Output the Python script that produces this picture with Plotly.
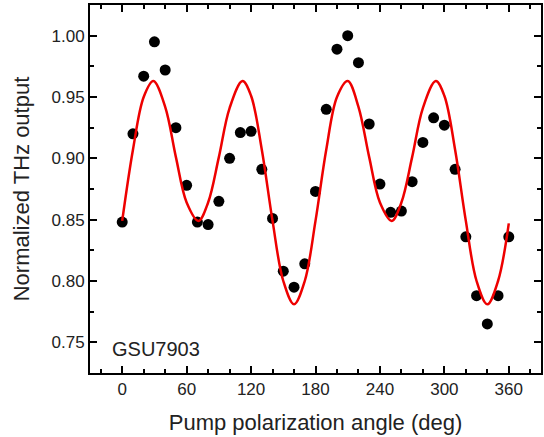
import plotly.graph_objects as go

# Measured data points
angle = [0, 10, 20, 30, 40, 50, 60, 70, 80, 90, 100, 110, 120, 130, 140, 150, 160, 170,
         180, 190, 200, 210, 220, 230, 240, 250, 260, 270, 280, 290, 300, 310, 320, 330,
         340, 350, 360]
thz = [0.848, 0.920, 0.967, 0.995, 0.972, 0.925, 0.878, 0.848, 0.846, 0.865, 0.900, 0.921,
       0.922, 0.891, 0.851, 0.808, 0.795, 0.814, 0.873, 0.940, 0.989, 1.000, 0.978, 0.928,
       0.879, 0.856, 0.857, 0.881, 0.913, 0.933, 0.927, 0.891, 0.836, 0.788, 0.765, 0.788,
       0.836]

# Fit curve
fit_angle = [0, 10, 20, 29, 40, 50, 60, 71, 80, 90, 100, 112, 120, 130, 140, 150, 160,
             170, 180, 190, 200, 210, 220, 230, 240, 251, 260, 270, 280, 292, 300, 310,
             320, 330, 340, 350, 360]
fit_thz = [0.849, 0.907, 0.950, 0.963, 0.942, 0.901, 0.864, 0.849, 0.864, 0.901, 0.941,
           0.963, 0.951, 0.907, 0.849, 0.800, 0.781, 0.800, 0.849, 0.907, 0.950, 0.963,
           0.942, 0.901, 0.864, 0.849, 0.864, 0.901, 0.941, 0.963, 0.951, 0.907, 0.849,
           0.800, 0.781, 0.800, 0.847]

x_ticks = [0, 60, 120, 180, 240, 300, 360]
y_ticks = [0.75, 0.80, 0.85, 0.90, 0.95, 1.00]
y_tick_labels = ["0.75", "0.80", "0.85", "0.90", "0.95", "1.00"]

FONT = "Liberation Sans, Arial, sans-serif"

fig = go.Figure()
fig.add_trace(go.Scatter(x=angle, y=thz, mode="markers",
                         marker=dict(color="black", size=11), showlegend=False))
fig.add_trace(go.Scatter(x=fit_angle, y=fit_thz, mode="lines",
                         line=dict(color="#ee0000", width=2.5, shape="spline", smoothing=1.0),
                         showlegend=False))

fig.add_annotation(text="GSU7903", x=0.044, y=0.065, xref="paper", yref="paper",
                   xanchor="left", yanchor="middle", showarrow=False,
                   font=dict(family=FONT, size=20, color="#222"))

fig.update_layout(
    width=544, height=437,
    margin=dict(l=90, r=3, t=5, b=64, autoexpand=False),
    paper_bgcolor="white", plot_bgcolor="white",
    font=dict(family=FONT, color="#222"),
)
fig.update_xaxes(
    range=[-30, 390], tickvals=x_ticks, ticktext=[str(v) for v in x_ticks],
    ticks="inside", ticklen=7, tickwidth=2, tickcolor="black",
    showline=True, linecolor="black", linewidth=2, mirror="allticks",
    showgrid=False, zeroline=False, tickfont=dict(size=17, family=FONT),
    minor=dict(dtick=20, tick0=0, ticks="inside", ticklen=4, tickwidth=2, tickcolor="black"),
    title=dict(text="Pump polarization angle (deg)", font=dict(size=22, family=FONT), standoff=16),
    automargin=False,
)
fig.update_yaxes(
    range=[0.725, 1.025], tickvals=y_ticks, ticktext=y_tick_labels,
    ticks="inside", ticklen=7, tickwidth=2, tickcolor="black",
    showline=True, linecolor="black", linewidth=2, mirror="allticks",
    showgrid=False, zeroline=False, tickfont=dict(size=17, family=FONT),
    minor=dict(dtick=0.025, tick0=0.725, ticks="inside", ticklen=4, tickwidth=2, tickcolor="black"),
    title=dict(text="Normalized THz output", font=dict(size=22, family=FONT), standoff=16),
    automargin=False,
)

fig.write_html("out.html", config={"displayModeBar": False},
               post_script="document.body.style.margin='0';")
